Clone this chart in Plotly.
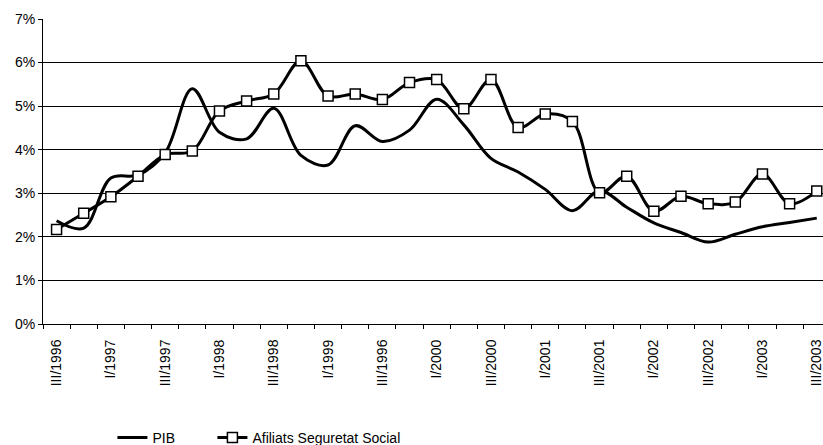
import plotly.graph_objects as go

quarters = ["III/1996", "IV/1996", "I/1997", "II/1997", "III/1997", "IV/1997",
            "I/1998", "II/1998", "III/1998", "IV/1998", "I/1999", "II/1999",
            "III/1999", "IV/1999", "I/2000", "II/2000", "III/2000", "IV/2000",
            "I/2001", "II/2001", "III/2001", "IV/2001", "I/2002", "II/2002",
            "III/2002", "IV/2002", "I/2003", "II/2003", "III/2003"]
# labels shown on the axis (every second quarter; the original shows "III/1996" in place of III/1999)
tick_labels = ["III/1996", "", "I/1997", "", "III/1997", "", "I/1998", "", "III/1998", "",
               "I/1999", "", "III/1996", "", "I/2000", "", "III/2000", "", "I/2001", "",
               "III/2001", "", "I/2002", "", "III/2002", "", "I/2003", "", "III/2003"]

pib = [2.37, 2.20, 3.35, 3.42, 3.93, 5.40, 4.40, 4.25, 4.95, 3.87, 3.65, 4.55,
       4.19, 4.45, 5.16, 4.57, 3.80, 3.49, 3.09, 2.60, 3.06, 2.68, 2.32, 2.10,
       1.88, 2.06, 2.23, 2.33, 2.43]
afiliats = [2.17, 2.54, 2.92, 3.39, 3.89, 3.97, 4.89, 5.12, 5.28, 6.04, 5.23, 5.28,
            5.15, 5.54, 5.61, 4.94, 5.61, 4.51, 4.82, 4.65, 3.01, 3.39, 2.59, 2.93,
            2.76, 2.80, 3.44, 2.76, 3.05]

font_family = "Liberation Sans, Arial, sans-serif"

fig = go.Figure()
fig.add_trace(go.Scatter(
    x=quarters, y=pib, name="PIB", mode="lines", legend="legend",
    line=dict(color="black", width=3, shape="spline", smoothing=1.0),
))
fig.add_trace(go.Scatter(
    x=quarters, y=afiliats, name="Afiliats Seguretat Social", mode="lines+markers",
    legend="legend2",
    line=dict(color="black", width=3, shape="spline", smoothing=1.0),
    marker=dict(symbol="square", size=10, color="white", line=dict(color="black", width=1.5)),
))

legend_common = dict(orientation="h", xanchor="left", yref="container", y=0.0157,
                     yanchor="middle", font=dict(size=14), bgcolor="rgba(0,0,0,0)")

fig.update_layout(
    width=823, height=445,
    margin=dict(l=43, r=0, t=19, b=120.5, autoexpand=False),
    paper_bgcolor="white", plot_bgcolor="white",
    font=dict(family=font_family, size=14, color="black"),
    showlegend=True,
    legend=dict(x=0.089, **legend_common),
    legend2=dict(x=0.2172, **legend_common),
)
fig.update_xaxes(
    type="category", categoryorder="array", categoryarray=quarters,
    tickmode="array", tickvals=quarters, ticktext=tick_labels,
    tickson="boundaries", ticks="outside", ticklen=4, tickcolor="black",
    tickangle=-90, ticklabelstandoff=9,
    showgrid=False, showline=True, linecolor="black", linewidth=1,
    range=[-0.5, 28.23], zeroline=False, automargin=False,
)
fig.update_yaxes(
    range=[0, 7], dtick=1, tick0=0, ticksuffix="%",
    showgrid=True, gridcolor="black", gridwidth=1,
    ticks="outside", ticklen=4, tickcolor="black",
    showline=True, linecolor="black", linewidth=1, zeroline=False, automargin=False,
)

# remove the default page margin so the 823x445 figure fills the window exactly
page_css = "document.body.style.margin='0';document.body.style.padding='0';document.body.style.overflow='hidden';"

fig.write_html("out.html", post_script=page_css, config={"displayModeBar": False})
